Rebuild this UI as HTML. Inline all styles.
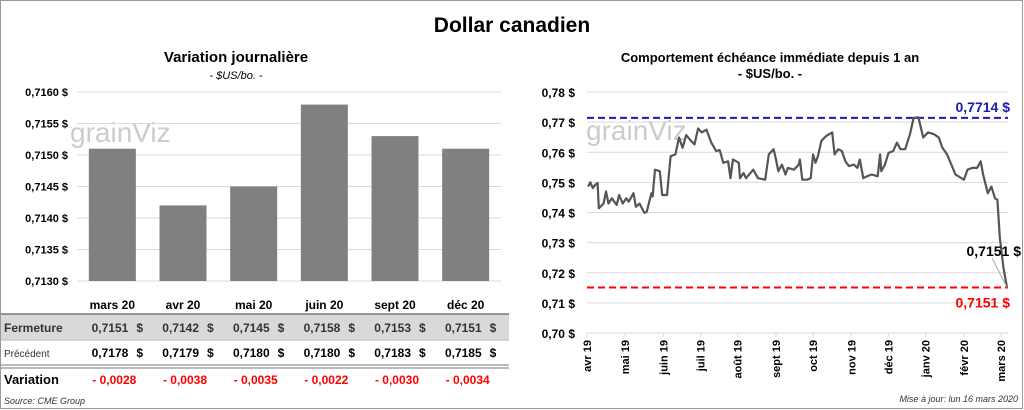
<!DOCTYPE html>
<html><head><meta charset="utf-8"><style>
body{margin:0;background:#fff;font-family:"Liberation Sans",Arial,sans-serif}
#wrap{position:relative;width:1024px;height:410px;overflow:hidden}
svg text{font-family:"Liberation Sans",Arial,sans-serif}
</style></head><body>
<div id="wrap">
<svg id="s" width="1024" height="410" xmlns="http://www.w3.org/2000/svg">
<rect x="0.5" y="0.5" width="1022" height="408" fill="none" stroke="#999"/>
<text x="512" y="32" text-anchor="middle" font-size="21" font-weight="bold">Dollar canadien</text>
<text x="236" y="62" text-anchor="middle" font-size="15" font-weight="bold">Variation  journalière</text>
<text x="236" y="79" text-anchor="middle" font-size="11" font-style="italic">- $US/bo. -</text>
<text x="770" y="62" text-anchor="middle" font-size="13" font-weight="bold">Comportement échéance immédiate depuis 1 an</text>
<text x="770" y="78" text-anchor="middle" font-size="13" font-weight="bold">- $US/bo. -</text>
<g id="left"></g>
<g id="right"></g>
<g id="table"></g>
<text x="4" y="404" font-size="9" font-style="italic" fill="#333">Source: CME Group</text>
<text x="1018" y="402" text-anchor="end" font-size="9" font-style="italic" fill="#333">Mise à jour: lun 16 mars 2020</text>
</svg></div>
<script>
const barCats=["mars 20","avr 20","mai 20","juin 20","sept 20","déc 20"];
const closeVals=[0.7151,0.7142,0.7145,0.7158,0.7153,0.7151];
const prevVals=[0.7178,0.7179,0.7180,0.7180,0.7183,0.7185];
const varVals=["0,0028","0,0038","0,0035","0,0022","0,0030","0,0034"];
const leftTicks=[0.7130,0.7135,0.7140,0.7145,0.7150,0.7155,0.7160];
const lineDays=[0,2,4,6,8,9,13,15,17,20,24,26,29,32,34,38,40,43,47,49,53,54,56,60,62,66,69,73,76,79,82,86,89,92,95,99,103,107,110,113,117,119,121,126,127,130,132,138,142,148,151,155,157,159,162,165,167,172,176,177,179,183,186,188,190,192,195,199,204,206,209,212,215,218,222,225,227,230,233,237,242,244,245,248,251,255,258,261,265,269,272,276,280,284,289,293,296,300,307,314,317,321,325,328,330,334,337,340,342,344,347,350];
const lineVals=[.7486,.7500,.7481,.7492,.7498,.7414,.7430,.7470,.7430,.7447,.7425,.7458,.7430,.7447,.7436,.7464,.7419,.7430,.7399,.7402,.7464,.7453,.7542,.7537,.7458,.7458,.7587,.7593,.7649,.7615,.7657,.7638,.7626,.7679,.7666,.7675,.7632,.7604,.7607,.7565,.7570,.7514,.7576,.7565,.7514,.7531,.7514,.7542,.7514,.7509,.7593,.7610,.7576,.7537,.7559,.7526,.7548,.7542,.7559,.7576,.7509,.7509,.7514,.7593,.7565,.7587,.7638,.7654,.7666,.7593,.7610,.7604,.7570,.7554,.7559,.7548,.7576,.7514,.7520,.7526,.7520,.7593,.7537,.7559,.7598,.7604,.7632,.7610,.7610,.7660,.7714,.7716,.7649,.7666,.7660,.7649,.7615,.7593,.7526,.7509,.7542,.7548,.7548,.7570,.7526,.7464,.7486,.7447,.7442,.7318,.7218,.7151];
const rightTicks=[0.70,0.71,0.72,0.73,0.74,0.75,0.76,0.77,0.78];
const monthLabels=["avr 19","mai 19","juin 19","juil 19","août 19","sept 19","oct 19","nov 19","déc 19","janv 20","févr 20","mars 20"];
const monthDays=[-1,31,63,94,125,157,188,220,251,282,314,345];
const maxVal=0.7714, lastVal=0.7151;
const NS="http://www.w3.org/2000/svg";
function mk(p,t,a,txt){const e=document.createElementNS(NS,t);for(const k in a)e.setAttribute(k,a[k]);if(txt!=null)e.textContent=txt;p.appendChild(e);return e;}
const fmt=(v,d)=>v.toFixed(d).replace('.',',');
// left chart
const L=document.getElementById('left');
const lx0=77,lx1=501,ly=v=>281-(v-0.7130)/0.0030*189,bw=(lx1-lx0)/barCats.length;
mk(L,'text',{x:70,y:142,'font-size':28,fill:'#ccc'},'grainViz');
leftTicks.forEach(t=>{const g=mk(L,'line',{x1:lx0,x2:lx1,y1:ly(t),y2:ly(t),stroke:'#d9d9d9'});
const tx=mk(L,'text',{x:68,y:ly(t)+4,'text-anchor':'end','font-size':11,'font-weight':'bold'},fmt(t,4)+' $');});
closeVals.forEach((v,i)=>{const cx=lx0+bw*(i+0.5);const r=mk(L,'rect',{x:cx-23.5,y:ly(v),width:47,height:281-ly(v),fill:'#808080'});});
// table
const T=document.getElementById('table');
mk(T,'rect',{x:1,y:314,width:508,height:26,fill:'#d9d9d9'});
mk(T,'line',{x1:1,x2:509,y1:314,y2:314,stroke:'#777','stroke-width':1.5});
mk(T,'line',{x1:1,x2:509,y1:340,y2:340,stroke:'#bbb'});
mk(T,'line',{x1:1,x2:509,y1:365,y2:365,stroke:'#777'});
mk(T,'line',{x1:1,x2:509,y1:368,y2:368,stroke:'#777'});
mk(T,'text',{x:4,y:332,'font-size':12,'font-weight':'bold',fill:'#333'},'Fermeture');
mk(T,'text',{x:4,y:357,'font-size':10,fill:'#333'},'Précédent');
mk(T,'text',{x:4,y:384,'font-size':13,'font-weight':'bold'},'Variation');
barCats.forEach((c,i)=>{const cx=lx0+bw*(i+0.5);
const h=mk(T,'text',{x:cx,y:309,'text-anchor':'middle','font-size':12,'font-weight':'bold'},c);
const a=mk(T,'text',{x:cx+16,y:332,'text-anchor':'end','font-size':12,'font-weight':'bold',fill:'#333'},fmt(closeVals[i],4));
mk(T,'text',{x:cx+24,y:332,'font-size':12,'font-weight':'bold',fill:'#333'},'$');
const b=mk(T,'text',{x:cx+16,y:357,'text-anchor':'end','font-size':12,'font-weight':'bold'},fmt(prevVals[i],4));
mk(T,'text',{x:cx+24,y:357,'font-size':12,'font-weight':'bold'},'$');
const d=mk(T,'text',{x:cx+2,y:384,'text-anchor':'middle','font-size':12,'font-weight':'bold',fill:'#f00'},'- '+varVals[i]);});
// right chart
const R=document.getElementById('right');
const rx0=587,rx1=1008,ry=v=>333-(v-0.70)/0.08*241,rxd=d=>588+d/350*(1007-588);
mk(R,'text',{x:586,y:140,'font-size':28,fill:'#ccc'},'grainViz');
rightTicks.forEach(t=>{const g=mk(R,'line',{x1:rx0,x2:rx1,y1:ry(t),y2:ry(t),stroke:'#d9d9d9'});
const tx=mk(R,'text',{x:575,y:ry(t)+5,'text-anchor':'end','font-size':12,'font-weight':'bold'},fmt(t,2)+' $');});
monthLabels.forEach((m,i)=>{const x=rxd(monthDays[i]);
mk(R,'line',{x1:x,x2:x,y1:333,y2:337,stroke:'#d9d9d9'});
const tx=mk(R,'text',{x:x+4,y:340,'text-anchor':'end','font-size':11,'font-weight':'bold',transform:`rotate(-90 ${x+4} 340)`},m);});
const hl=mk(R,'line',{x1:rx0,x2:rx1,y1:ry(maxVal),y2:ry(maxVal),stroke:'#1a1ab4','stroke-width':2,'stroke-dasharray':'7,4'});
mk(R,'text',{x:1010,y:ry(maxVal)-6,'text-anchor':'end','font-size':14,'font-weight':'bold',fill:'#1a1ab4'},fmt(maxVal,4)+' $');
const ll=mk(R,'line',{x1:rx0,x2:rx1,y1:ry(lastVal),y2:ry(lastVal),stroke:'#f00','stroke-width':2,'stroke-dasharray':'7,4'});
mk(R,'text',{x:1010,y:ry(lastVal)+20,'text-anchor':'end','font-size':14,'font-weight':'bold',fill:'#f00'},fmt(lastVal,4)+' $');
const pts=lineDays.map((d,i)=>rxd(d).toFixed(1)+','+ry(lineVals[i]).toFixed(1)).join(' ');
const pl=mk(R,'polyline',{points:pts,fill:'none',stroke:'#555','stroke-width':2.2,'stroke-linejoin':'round'});
mk(R,'line',{x1:992,y1:258,x2:rxd(lineDays[lineDays.length-1]),y2:ry(lastVal),stroke:'#aaa'});
mk(R,'text',{x:1021,y:256,'text-anchor':'end','font-size':14,'font-weight':'bold'},fmt(lineVals[lineVals.length-1],4)+' $');
</script></body></html>
